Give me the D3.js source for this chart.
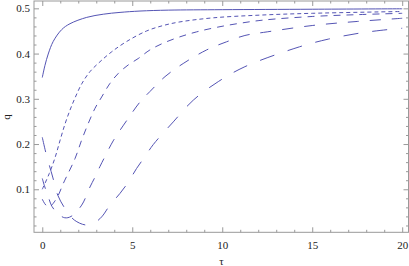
<!DOCTYPE html>
<html>
<head>
<meta charset="UTF-8">
<title>q vs tau</title>
<style>
  body { margin: 0; background: #fff; }
  .domain { display: none; }
  .tick line { stroke: #999; }
  .curve { fill: none; stroke: #5454b4; stroke-width: 1; }
</style>
<script src="https://cdn.jsdelivr.net/npm/d3@7"></script>
</head>
<body>
<script>
// values
var tauSolid = [0, 0.15, 0.33, 0.61, 1.08, 1.54, 2.47, 3.39, 4.32, 5.43, 7, 10, 15, 20];
var qSolid   = [0.347, 0.374, 0.399, 0.427, 0.453, 0.466, 0.480, 0.487, 0.491, 0.494, 0.496, 0.497, 0.498, 0.499];

var tauShort = [0, 0.39, 0.71, 0.98, 1.26, 1.54, 1.82, 2.19, 2.65, 3.21, 3.86, 4.7, 5.8, 6.72, 7.65, 9.5, 12.1, 15, 20];
var qShort   = [0.100, 0.135, 0.170, 0.207, 0.244, 0.275, 0.302, 0.333, 0.360, 0.382, 0.404, 0.427, 0.450, 0.462, 0.470, 0.479, 0.485, 0.489, 0.493];

var tauMedium = [0, 0.2, 0.4, 0.61, 0.89, 1.17, 1.82, 2.19, 2.56, 2.93, 3.3, 3.76, 4.22, 4.78, 5.33, 5.98, 6.72, 7.65, 8.58, 9.69, 10.98, 12.28, 15, 17.5, 20];
var qMedium   = [0.078, 0.065, 0.061, 0.069, 0.087, 0.113, 0.168, 0.209, 0.246, 0.279, 0.304, 0.334, 0.356, 0.375, 0.389, 0.408, 0.423, 0.437, 0.448, 0.458, 0.467, 0.474, 0.482, 0.486, 0.489];

var tauLong = [0, 0.11, 0.36, 0.54, 0.9, 1.25, 1.6, 2.19, 2.65, 2.93, 3.2, 3.48, 3.94, 4.78, 5.43, 5.98, 6.82, 7.83, 9.13, 10.24, 11.26, 12.5, 15, 17.5, 20];
var qLong   = [0.124, 0.109, 0.080, 0.062, 0.045, 0.037, 0.040, 0.065, 0.105, 0.127, 0.150, 0.172, 0.207, 0.257, 0.293, 0.316, 0.349, 0.378, 0.408, 0.426, 0.440, 0.448, 0.462, 0.471, 0.478];

var tauLongest = [0, 0.21, 0.58, 0.86, 1.32, 1.78, 2.43, 2.9, 3.3, 3.76, 4.32, 4.78, 5.24, 5.7, 6.17, 7.28, 8.39, 9.78, 11.26, 14.3, 15.9, 17.6, 19.2, 20];
var qLongest   = [0.215, 0.179, 0.127, 0.087, 0.054, 0.032, 0.021, 0.026, 0.039, 0.065, 0.091, 0.116, 0.146, 0.172, 0.199, 0.249, 0.297, 0.338, 0.371, 0.415, 0.432, 0.445, 0.453, 0.456];

var xMajor = [0, 5, 10, 15, 20];
var yMajor = [0.1, 0.2, 0.3, 0.4, 0.5];

var ancho = 409, alto = 266;
var izq = 34, der = 408.5, arriba = 1, abajo = 232.3;
var fuente = "'Liberation Serif', 'Times New Roman', 'DejaVu Serif', serif";

var svg = d3.select("body").append("svg")
  .attr("width", ancho).attr("height", alto);

var x = d3.scaleLinear().domain([-0.46, 20.35]).range([izq, der]);
var y = d3.scaleLinear().domain([0.0049, 0.5162]).range([abajo, arriba]);

var xMinor = d3.range(0, 20.5, 1).filter(function(v) { return v % 5 !== 0; });
var yMinor = d3.range(2, 52, 2).map(function(v) { return v / 100; })
  .filter(function(v) { return Math.abs(v * 10 - Math.round(v * 10)) > 1e-6; });

// frame
svg.append("rect")
  .attr("x", izq).attr("y", arriba)
  .attr("width", der - izq).attr("height", abajo - arriba)
  .attr("fill", "none").attr("stroke", "#999").attr("stroke-width", 1);

function estiloTexto(g) {
  g.attr("font-family", fuente).attr("font-size", 11);
  g.selectAll("text").attr("fill", "#222");
}

// bottom axis
svg.append("g").attr("transform", "translate(0," + abajo + ")")
  .call(d3.axisBottom(x).tickValues(xMajor).tickSize(-5).tickPadding(9).tickFormat(d3.format("d")))
  .call(estiloTexto);
svg.append("g").attr("transform", "translate(0," + abajo + ")")
  .call(d3.axisBottom(x).tickValues(xMinor).tickSize(-2.5).tickFormat(""));
// top axis
svg.append("g").attr("transform", "translate(0," + arriba + ")")
  .call(d3.axisTop(x).tickValues(xMajor).tickSize(-5).tickFormat(""));
svg.append("g").attr("transform", "translate(0," + arriba + ")")
  .call(d3.axisTop(x).tickValues(xMinor).tickSize(-2.5).tickFormat(""));
// left axis
svg.append("g").attr("transform", "translate(" + izq + ",0)")
  .call(d3.axisLeft(y).tickValues(yMajor).tickSize(-5).tickPadding(4).tickFormat(d3.format(".1f")))
  .call(estiloTexto);
svg.append("g").attr("transform", "translate(" + izq + ",0)")
  .call(d3.axisLeft(y).tickValues(yMinor).tickSize(-2.5).tickFormat(""));
// right axis
svg.append("g").attr("transform", "translate(" + der + ",0)")
  .call(d3.axisRight(y).tickValues(yMajor).tickSize(-5).tickFormat(""));
svg.append("g").attr("transform", "translate(" + der + ",0)")
  .call(d3.axisRight(y).tickValues(yMinor).tickSize(-2.5).tickFormat(""));

// axis labels
svg.append("text")
  .attr("x", 221.5).attr("y", 265)
  .attr("text-anchor", "middle")
  .attr("font-family", fuente).attr("font-size", 11).attr("fill", "#222")
  .text("τ");
svg.append("text")
  .attr("transform", "translate(10,117) rotate(-90)")
  .attr("text-anchor", "middle")
  .attr("font-family", fuente).attr("font-size", 11).attr("fill", "#222")
  .text("q");

// curves
var linea = d3.line()
  .x(function(d) { return x(d[0]); })
  .y(function(d) { return y(d[1]); })
  .curve(d3.curveCatmullRom.alpha(0.5));

var series = [
  { t: tauSolid,   q: qSolid,   dash: null },
  { t: tauShort,   q: qShort,   dash: "4,3" },
  { t: tauMedium,  q: qMedium,  dash: "7,6" },
  { t: tauLong,    q: qLong,    dash: "11,11" },
  { t: tauLongest, q: qLongest, dash: "15,14" }
];

var plot = svg.append("g");
series.forEach(function(s) {
  var pts = s.t.map(function(t, i) { return [t, s.q[i]]; });
  plot.append("path")
    .attr("class", "curve")
    .attr("d", linea(pts))
    .attr("stroke-dasharray", s.dash);
});
</script>
</body>
</html>
